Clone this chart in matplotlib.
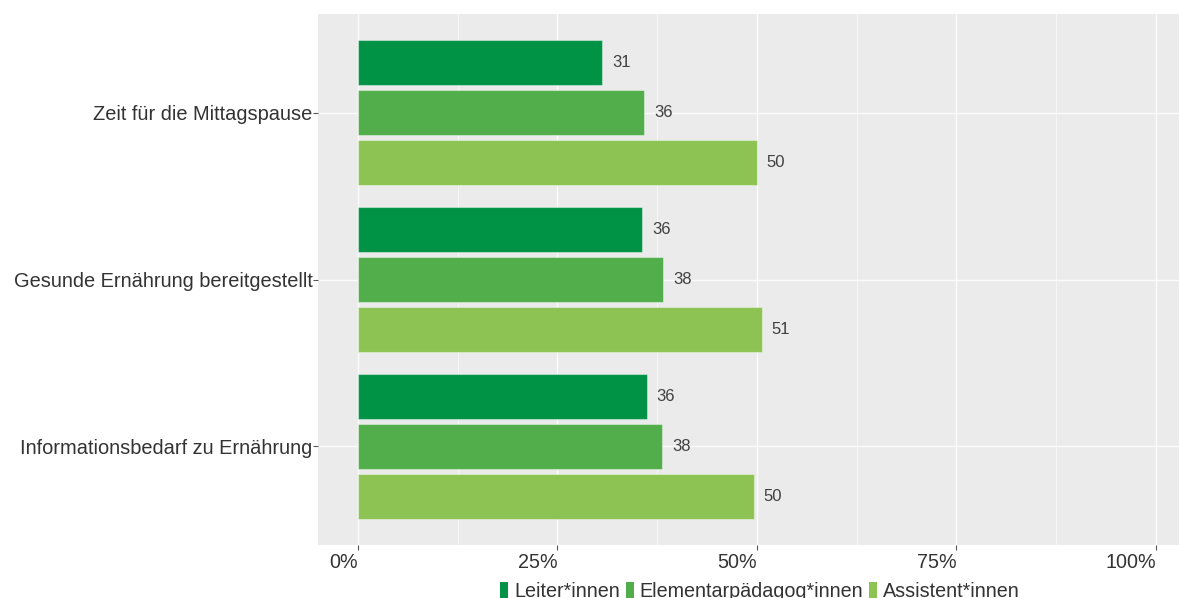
import matplotlib
matplotlib.use("Agg")
import matplotlib.pyplot as plt
import numpy as np
from matplotlib import font_manager
from matplotlib.patches import Rectangle
from matplotlib.ticker import FixedLocator

CATEGORIES = [
    "Zeit für die Mittagspause",
    "Gesunde Ernährung bereitgestellt",
    "Informationsbedarf zu Ernährung",
]
GROUPS = ["Leiter*innen", "Elementarpädagog*innen", "Assistent*innen"]
LEITER = [30.6, 35.6, 36.2]
ELEMENTAR = [35.9, 38.3, 38.1]
ASSISTENT = [50.0, 50.6, 49.6]
X_TICKS = [0, 25, 50, 75, 100]
X_TICK_LABELS = ["0%", "25%", "50%", "75%", "100%"]

COLORS = ["#009245", "#52AE4A", "#8DC352"]
TEXT_COLOR = "#333333"

names = {f.name for f in font_manager.fontManager.ttflist}
if "Liberation Sans Narrow" in names:
    NARROW = ["Liberation Sans Narrow", "DejaVu Sans"]
    NARROW_SIZE = 17.3
else:
    NARROW = ["Liberation Sans", "DejaVu Sans"]
    NARROW_SIZE = 14.2

plt.rcParams["font.family"] = ["Liberation Sans", "DejaVu Sans"]

fig = plt.figure(figsize=(11.79, 5.98), dpi=100)
ax = fig.add_axes([318 / 1179, 53 / 598, (1195.6 - 318) / 1179, 531 / 598])
ax.set_facecolor("#EBEBEB")
for s in ax.spines.values():
    s.set_visible(False)

y = np.arange(len(CATEGORIES))
step = 0.3
bar_h = 0.27
series = [LEITER, ELEMENTAR, ASSISTENT]
for i, (vals, color, name) in enumerate(zip(series, COLORS, GROUPS)):
    pos = y + (i - 1) * step
    ax.barh(pos, vals, height=bar_h, color=color, edgecolor=(1, 1, 1, 0.4),
            linewidth=0.8, zorder=3, label=name)
    for p, v in zip(pos, vals):
        ax.text(v + 1.25, p, f"{v:.0f}", va="center", ha="left",
                fontsize=12, color="#404040", zorder=4)

ax.set_xlim(-5, 105)
ax.set_ylim(len(CATEGORIES) - 1 + 0.59, -0.59)

ax.xaxis.set_major_locator(FixedLocator(X_TICKS))
ax.xaxis.set_minor_locator(FixedLocator([12.5, 37.5, 62.5, 87.5]))
ax.set_xticklabels(X_TICK_LABELS, ha="right", family=NARROW,
                   fontsize=NARROW_SIZE, color=TEXT_COLOR)
ax.set_yticks(y)
ax.set_yticklabels(CATEGORIES, fontsize=14.4, color=TEXT_COLOR)

ax.tick_params(axis="both", which="major", length=3.5, width=0.8,
               color="#555555", pad=2)
ax.tick_params(axis="y", which="major", pad=0.4)
ax.tick_params(axis="x", which="minor", length=0)
ax.grid(which="major", color="white", linewidth=1.0, alpha=0.85, zorder=0)
ax.grid(which="minor", axis="x", color="white", linewidth=0.5, alpha=0.85, zorder=0)
ax.set_axisbelow(True)

handles = [Rectangle((0, 0), 1, 1, facecolor=c, edgecolor="none") for c in COLORS]
fig.legend(handles, GROUPS, loc="upper center", bbox_to_anchor=(760 / 1179, 26 / 598),
           ncol=3, frameon=False, borderpad=0, handlelength=0.4,
           handleheight=0.95, handletextpad=0.3, columnspacing=0.3,
           prop={"family": NARROW, "size": NARROW_SIZE}, labelcolor=TEXT_COLOR)

fig.savefig("out.png", dpi=100)
